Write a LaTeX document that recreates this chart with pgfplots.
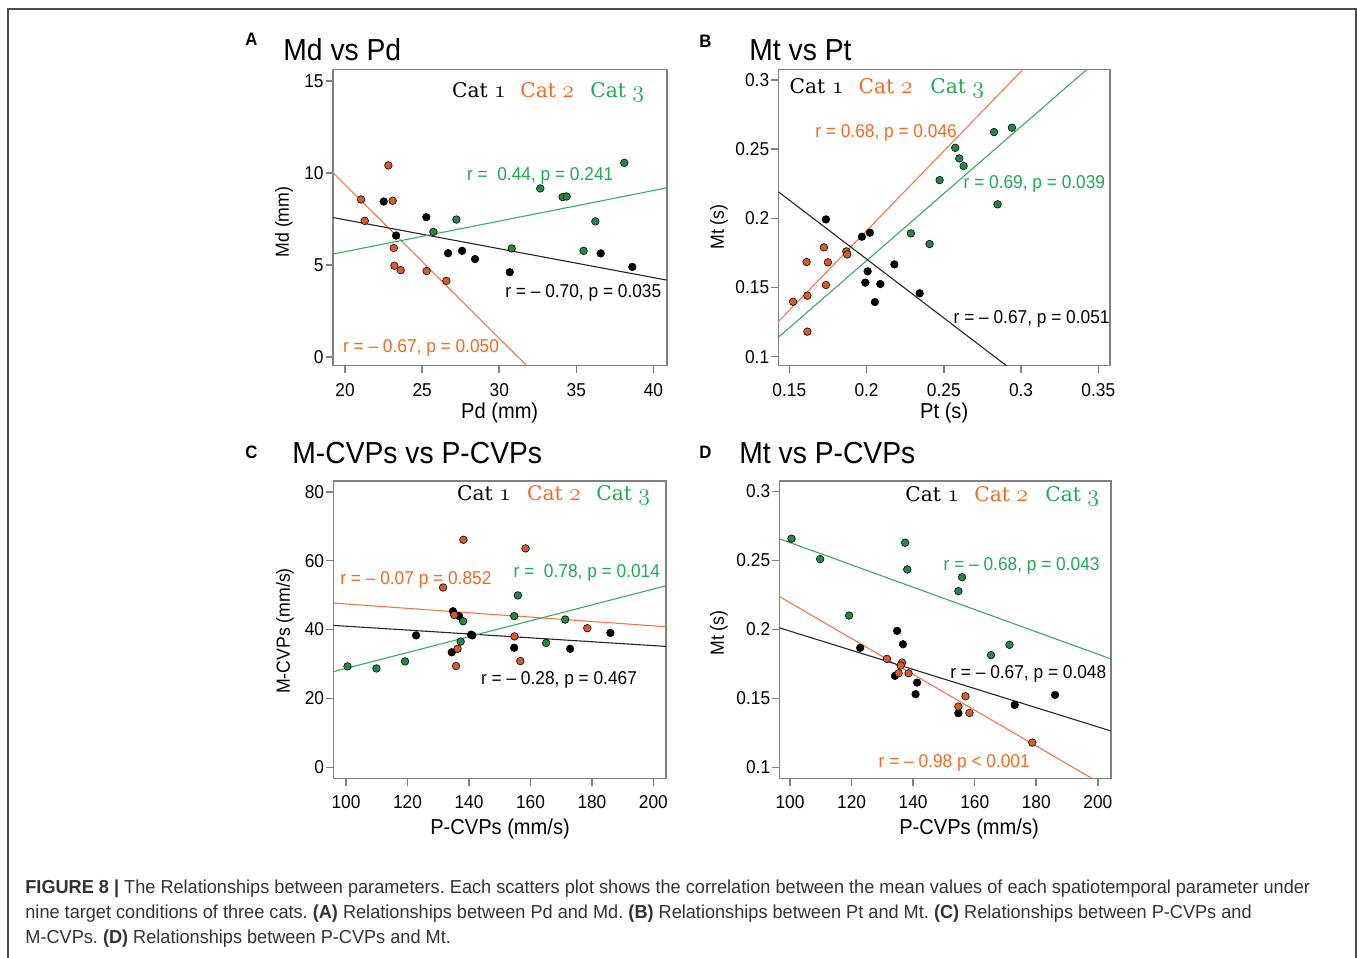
\documentclass[border=0pt]{standalone}
\usepackage{pgfplots}
\pgfplotsset{compat=1.18}
\usepackage{fontspec}
\setmainfont{Liberation Sans}[FakeStretch=0.93]
\newfontfamily\capfont{Liberation Sans}[FakeStretch=0.965]
\newfontfamily\catfont{DejaVu Serif}
\frenchspacing

\definecolor{orT}{HTML}{F26A22}
\definecolor{grT}{HTML}{1DAA52}
\definecolor{orP}{HTML}{DB5A2A}
\definecolor{grP}{HTML}{1E8A45}
\definecolor{orL}{HTML}{F0784A}
\definecolor{grL}{HTML}{3BAA62}
\definecolor{axg}{HTML}{808080}

\newcommand\fs[1]{\fontsize{#1bp}{#1bp}\selectfont}
\newcommand\catn[1]{{\catfont\fs{10.1}Cat }{\fontsize{11.8bp}{11.8bp}\usefont{OML}{lmm}{b}{it}#1}}

\pgfplotsset{
  panel/.style={
    scale only axis, anchor=south west,
    axis line style={axg, line width=0.8bp},
    tick pos=left, tick align=outside,
    major tick length=3.6bp,
    tick style={axg, line width=0.8bp},
    ticklabel style={font=\fs{9.3}, inner sep=0pt, text=black},
    yticklabel style={anchor=east, xshift=-0.8bp},
    xticklabel style={anchor=north, yshift=-5bp},
    clip mode=individual,
  },
  catB/.style={only marks, mark=*, mark size=1.9bp, mark options={fill=black, draw=black, line width=0.3bp}},
  catO/.style={only marks, mark=*, mark size=1.9bp, mark options={fill=orP, draw=black, line width=0.3bp}},
  catG/.style={only marks, mark=*, mark size=1.9bp, mark options={fill=grP, draw=black, line width=0.3bp}},
  fitB/.style={no marks, black!85, line width=0.55bp},
  fitO/.style={no marks, orL, line width=0.55bp},
  fitG/.style={no marks, grL, line width=0.55bp},
}

\begin{document}
\begin{tikzpicture}[x=0.5bp, y=-0.5bp]
\path[use as bounding box] (0,0) rectangle (1357,957);
\draw[black!70, line width=0.9bp] (8,965) -- (8,9) -- (1356,9) -- (1356,965);

% ---------- A: Md vs Pd
\begin{axis}[panel, at={(166.35bp,-182.75bp)}, width=167bp, height=148.1bp,
  xmin=19.2, xmax=40.86, ymin=-0.47, ymax=15.62,
  xtick={20,25,30,35,40}, xticklabels={20,25,30,35,40},
  ytick={0,5,10,15}, yticklabels={0,5,10,15}]
\addplot[fitO] coordinates {(19.2,10.02) (32,-0.66)};
\addplot[fitB] coordinates {(19.2,7.57) (40.86,4.17)};
\addplot[fitG] coordinates {(19.2,5.58) (40.86,9.18)};
\addplot[catB] table {
22.51 8.44
23.31 6.59
25.27 7.59
26.68 5.63
27.59 5.76
28.43 5.31
30.68 4.60
36.58 5.62
38.63 4.89
};
\addplot[catO] table {
21.04 8.55
21.28 7.39
22.81 10.40
23.09 8.48
23.16 5.91
23.20 4.95
23.61 4.71
25.29 4.66
26.57 4.13
};
\addplot[catG] table {
25.73 6.79
27.22 7.46
30.81 5.89
32.66 9.15
34.11 8.68
34.37 8.71
35.47 5.76
36.23 7.36
38.11 10.54
};
\end{axis}

% ---------- B: Mt vs Pt
\begin{axis}[panel, at={(389.15bp,-182.75bp)}, width=165.85bp, height=148.1bp,
  xmin=0.1429, xmax=0.3576, ymin=0.0936, ymax=0.3077,
  xtick={0.15,0.2,0.25,0.3,0.35}, xticklabels={0.15,0.2,0.25,0.3,0.35},
  ytick={0.1,0.15,0.2,0.25,0.3}, yticklabels={0.1,0.15,0.2,0.25,0.3}]
\addplot[fitO] coordinates {(0.1429,0.1253) (0.31,0.3177)};
\addplot[fitG] coordinates {(0.1429,0.1140) (0.35,0.3148)};
\addplot[fitB] coordinates {(0.1429,0.2192) (0.30,0.0854)};
\addplot[catB] table {
0.1737 0.1992
0.1970 0.1867
0.2022 0.1896
0.2007 0.1617
0.1992 0.1535
0.2089 0.1525
0.2054 0.1395
0.2180 0.1667
0.2344 0.1458
};
\addplot[catO] table {
0.1524 0.1397
0.1612 0.1684
0.1617 0.1441
0.1617 0.1181
0.1724 0.1790
0.1750 0.1682
0.1737 0.1518
0.1869 0.1761
0.1875 0.1739
};
\addplot[catG] table {
0.2287 0.1891
0.2408 0.1814
0.2473 0.2276
0.2574 0.2510
0.2600 0.2433
0.2628 0.2378
0.2825 0.2623
0.2941 0.2655
0.2848 0.2101
};
\end{axis}

% ---------- C: M-CVPs vs P-CVPs
\begin{axis}[panel, at={(166.65bp,-389.15bp)}, width=166.35bp, height=148.65bp,
  xmin=95.88, xmax=204.1, ymin=-3.19, ymax=83.1,
  xtick={100,120,140,160,180,200}, xticklabels={100,120,140,160,180,200},
  ytick={0,20,40,60,80}, yticklabels={0,20,40,60,80}]
\addplot[fitO] coordinates {(95.88,47.68) (204.1,40.81)};
\addplot[fitB] coordinates {(95.88,41.2) (204.1,35.1)};
\addplot[fitG] coordinates {(95.88,27.76) (204.1,52.7)};
\addplot[catB] table {
122.8 38.3
134.8 45.3
136.8 43.9
134.4 33.4
141.1 38.3
140.7 38.5
154.7 34.7
172.9 34.4
186.0 39.0
};
\addplot[catO] table {
138.2 66.05
158.4 63.54
131.6 52.2
135.2 44.2
136.3 34.4
135.8 29.4
154.8 38.0
156.7 30.85
178.5 40.4
};
\addplot[catG] table {
100.5 29.3
109.9 28.7
119.2 30.75
137.3 36.5
138.1 42.4
154.7 43.9
155.9 49.9
165.1 36.1
171.3 42.9
};
\end{axis}

% ---------- D: Mt vs P-CVPs
\begin{axis}[panel, at={(389.65bp,-389.15bp)}, width=165.7bp, height=148.65bp,
  xmin=96.53, xmax=204.2, ymin=0.092, ymax=0.3075,
  xtick={100,120,140,160,180,200}, xticklabels={100,120,140,160,180,200},
  ytick={0.1,0.15,0.2,0.25,0.3}, yticklabels={0.1,0.15,0.2,0.25,0.3}]
\addplot[fitG] coordinates {(96.53,0.2657) (204.2,0.1786)};
\addplot[fitO] coordinates {(96.53,0.2238) (200,0.0895)};
\addplot[fitB] coordinates {(96.53,0.2011) (204.2,0.1264)};
\addplot[catB] table {
122.8 0.1866
134.8 0.1989
136.7 0.1892
134.1 0.1663
141.3 0.1614
140.8 0.1530
154.7 0.1392
173.0 0.1452
186.1 0.1525
};
\addplot[catO] table {
131.5 0.1786
136.4 0.1759
135.97 0.1738
135.3 0.1682
138.5 0.1682
157.0 0.1515
154.7 0.1440
158.3 0.1394
178.7 0.1179
};
\addplot[catG] table {
100.5 0.2657
109.8 0.2509
119.2 0.2100
137.4 0.2628
138.1 0.2434
154.7 0.2277
155.9 0.2378
165.3 0.1813
171.3 0.1888
};
\end{axis}

% ---------- panel letters and titles
\begin{scope}[every node/.style={inner sep=0pt, anchor=base west}]
\node[font=\fs{9}\bfseries] at (245,45) {A};
\node[font=\fs{9}\bfseries] at (699,47) {B};
\node[font=\fs{9}\bfseries] at (245,458) {C};
\node[font=\fs{9}\bfseries] at (699,458) {D};
\node[font=\fs{15.2}] at (283,60) {Md vs Pd};
\node[font=\fs{15.2}] at (749,60) {Mt vs Pt};
\node[font=\fs{15.2}] at (292,463) {M-CVPs vs P-CVPs};
\node[font=\fs{15.2}] at (739,463) {Mt vs P-CVPs};
% legends
\node at (451.7,97.3) {\catn{1}};
\node[text=orT] at (520,97.3) {\catn{2}};
\node[text=grT] at (590,97.3) {\catn{3}};
\node at (789.3,93.3) {\catn{1}};
\node[text=orT] at (858.3,93.3) {\catn{2}};
\node[text=grT] at (930,93.3) {\catn{3}};
\node at (456.7,500) {\catn{1}};
\node[text=orT] at (526.7,500) {\catn{2}};
\node[text=grT] at (596,500) {\catn{3}};
\node at (905,501.7) {\catn{1}};
\node[text=orT] at (974,501.7) {\catn{2}};
\node[text=grT] at (1045,501.7) {\catn{3}};
% correlation notes
\node[font=\fs{9.3}, text=grT] at (466.7,180.3) {r =\ \ 0.44, p = 0.241};
\node[font=\fs{9.3}] at (505,297.7) {r = \textendash\ 0.70, p = 0.035};
\node[font=\fs{9.3}, text=orT] at (342.7,352) {r = \textendash\ 0.67, p = 0.050};
\node[font=\fs{9.3}, text=orT] at (815,137) {r = 0.68, p = 0.046};
\node[font=\fs{9.3}, text=grT] at (963.3,188.7) {r = 0.69, p = 0.039};
\node[font=\fs{9.3}] at (953.3,323.7) {r = \textendash\ 0.67, p = 0.051};
\node[font=\fs{9.3}, text=orT] at (340,584.3) {r = \textendash\ 0.07 p = 0.852};
\node[font=\fs{9.3}, text=grT] at (513.3,577.7) {r =\ \ 0.78, p = 0.014};
\node[font=\fs{9.3}] at (480.7,684.3) {r = \textendash\ 0.28, p = 0.467};
\node[font=\fs{9.3}, text=grT] at (943.3,570.3) {r = \textendash\ 0.68, p = 0.043};
\node[font=\fs{9.3}] at (950,678.7) {r = \textendash\ 0.67, p = 0.048};
\node[font=\fs{9.3}, text=orT] at (878.3,767) {r = \textendash\ 0.98 p < 0.001};
% caption
\node[font=\capfont\fs{9.4}, text=black!80] at (25,893.3) {\textbf{FIGURE 8 |} The Relationships between parameters. Each scatters plot shows the correlation between the mean values of each spatiotemporal parameter under};
\node[font=\capfont\fs{9.4}, text=black!80] at (25,918.3) {nine target conditions of three cats. \textbf{(A)} Relationships between Pd and Md. \textbf{(B)} Relationships between Pt and Mt. \textbf{(C)} Relationships between P-CVPs and};
\node[font=\capfont\fs{9.4}, text=black!80] at (25,943.3) {M-CVPs. \textbf{(D)} Relationships between P-CVPs and Mt.};
\end{scope}

% axis labels
\begin{scope}[every node/.style={inner sep=0pt}]
\node[font=\fs{10.8}, anchor=base] at (499.7,418) {Pd (mm)};
\node[font=\fs{10.8}, anchor=base] at (944.2,418) {Pt (s)};
\node[font=\fs{10.8}, anchor=base] at (500,834) {P-CVPs (mm/s)};
\node[font=\fs{10.8}, anchor=base] at (969,834) {P-CVPs (mm/s)};
\node[font=\fs{9.5}, rotate=90] at (284,222) {Md (mm)};
\node[font=\fs{9.5}, rotate=90] at (719,227) {Mt (s)};
\node[font=\fs{9.5}, rotate=90] at (285,631) {M-CVPs (mm/s)};
\node[font=\fs{9.5}, rotate=90] at (719,633) {Mt (s)};
\end{scope}
\end{tikzpicture}
\end{document}
